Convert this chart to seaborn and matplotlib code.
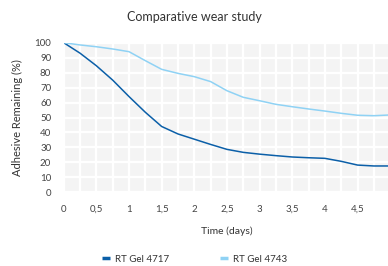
import numpy as np
import pandas as pd
import matplotlib
matplotlib.use("Agg")
import matplotlib.pyplot as plt
from matplotlib.lines import Line2D
from matplotlib.ticker import MultipleLocator
import seaborn as sns

# data (every 0.25 day)
time_days = [0, 0.25, 0.5, 0.75, 1, 1.25, 1.5, 1.75, 2, 2.25, 2.5,
             2.75, 3, 3.25, 3.5, 3.75, 4, 4.25, 4.5, 4.75, 5]
gel_4717 = [100, 93, 84.6, 75, 64, 53.5, 44, 39, 35.5, 32, 28.7,
            26.7, 25.5, 24.5, 23.6, 23.1, 22.7, 20.7, 18.2, 17.6, 17.6]
gel_4743 = [100, 98.5, 97.3, 95.8, 94, 88, 82.2, 79.5, 77.3, 74, 67.9,
            63.5, 61.2, 58.8, 57.2, 55.7, 54.3, 52.8, 51.5, 51.2, 51.7]
products = ["RT Gel 4717", "RT Gel 4743"]
colors = ["#0b5fa8", "#8fd2f4"]
x_ticks = [0, 0.5, 1, 1.5, 2, 2.5, 3, 3.5, 4, 4.5, 5]
x_tick_labels = ["0", "0,5", "1", "1,5", "2", "2,5", "3", "3,5", "4", "4,5", "5"]
y_ticks = list(range(0, 101, 10))

df = pd.DataFrame({
    "Time": time_days * 2,
    "Adhesive": gel_4717 + gel_4743,
    "Product": [products[0]] * len(time_days) + [products[1]] * len(time_days),
})

sns.set_theme(style="darkgrid", rc={
    "axes.facecolor": "#f4f4f4",
    "grid.color": "white",
    "grid.linewidth": 1.6,
})
plt.rcParams["font.family"] = ["Lato", "DejaVu Sans"]

fig = plt.figure(figsize=(3.88, 2.66), dpi=100)
ax = fig.add_axes([63.7 / 388, 1 - 192.3 / 266, 326.5 / 388, 149.6 / 266])

sns.lineplot(data=df, x="Time", y="Adhesive", hue="Product",
             palette=colors, linewidth=1.1, legend=False, ax=ax)

ax.set_xlim(0, 5)
ax.set_ylim(0, 100)
ax.set_xticks(x_ticks)
ax.set_xticklabels(x_tick_labels)
ax.set_yticks(y_ticks)
ax.xaxis.set_minor_locator(MultipleLocator(0.25))
ax.grid(True, which="both", axis="x")
ax.grid(True, which="major", axis="y")
ax.tick_params(axis="both", which="major", length=5, width=1, color="#cccccc",
               labelsize=7, labelcolor="#444444", pad=4)
ax.tick_params(axis="x", which="minor", length=0)
for s in ax.spines.values():
    s.set_visible(False)

ax.set_xlabel("Time (days)", fontsize=7.5, color="#333333", labelpad=9)
ax.set_ylabel("Adhesive Remaining (%)", fontsize=8, color="#333333", labelpad=8)

fig.text(0.5, 1 - 17 / 266, "Comparative wear study", ha="center", va="center",
         fontsize=9, color="#333333")

handles = [Line2D([0], [0], color=c, lw=2.5, solid_capstyle="butt") for c in colors]
fig.legend(handles, products, loc="center", bbox_to_anchor=(194.5 / 388, 1 - 259 / 266),
           ncol=2, frameon=False, fontsize=7, handlelength=0.85, handletextpad=0.5,
           columnspacing=5.2, labelcolor="#333333")

fig.savefig("out.png", dpi=100)
